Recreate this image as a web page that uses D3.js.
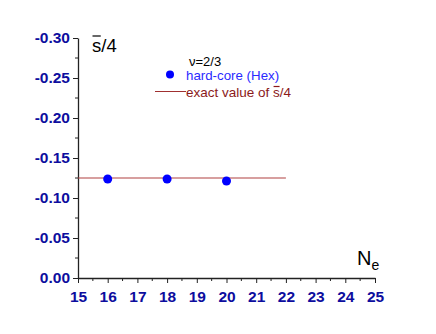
<!DOCTYPE html>
<html>
<head>
<meta charset="utf-8"/>
<script src="https://d3js.org/d3.v7.min.js"></script>
<style>
  body { margin: 0; background: #fff; }
  svg { display: block; font-family: "Liberation Sans", Arial, sans-serif; }
</style>
</head>
<body>
<div id="holder"></div>
<script>
// data
const ne = [16, 18, 20];
const sOver4 = [-0.1238, -0.1238, -0.1213];
const exactValue = -0.125;
const exactRange = [15, 22];
const xTicks = [15, 16, 17, 18, 19, 20, 21, 22, 23, 24, 25];
const yTicks = [0, -0.05, -0.10, -0.15, -0.20, -0.25, -0.30];

const w = 436, h = 334;
const padLeft = 78, padRight = 375, padTop = 38, padBottom = 278;
const blue = "#0d0d9e";

const svg = d3.select("#holder").append("svg")
  .attr("width", w).attr("height", h);

// scales
const x = d3.scaleLinear().domain([15, 25]).range([padLeft, padRight]);
const y = d3.scaleLinear().domain([0, -0.30]).range([padBottom, padTop]);

// axes (hyphen minus like the original)
const fmtY = d => d3.format(".2f")(d).replace("\u2212", "-");
const xAxis = d3.axisBottom(x).tickValues(xTicks).tickFormat(d3.format("d")).tickSize(5).tickSizeOuter(0);
const yAxis = d3.axisLeft(y).tickValues(yTicks).tickFormat(fmtY).tickSize(5).tickSizeOuter(0);

const gx = svg.append("g").attr("transform", "translate(0," + padBottom + ")").call(xAxis);
const gy = svg.append("g").attr("transform", "translate(" + padLeft + ",0)").call(yAxis);

// minor ticks
const xMinor = d3.range(15.5, 25, 1);
gx.selectAll(".minor").data(xMinor).enter().append("line")
  .attr("class", "minor")
  .attr("x1", d => x(d)).attr("x2", d => x(d))
  .attr("y1", 0).attr("y2", 3)
  .attr("stroke", "#222");
const yMinor = d3.range(-0.025, -0.30, -0.05);
gy.selectAll(".minor").data(yMinor).enter().append("line")
  .attr("class", "minor")
  .attr("y1", d => y(d)).attr("y2", d => y(d))
  .attr("x1", 0).attr("x2", -3)
  .attr("stroke", "#222");

[gx, gy].forEach(g => {
  g.select(".domain").attr("stroke", "#222").attr("stroke-width", 1.3);
  g.selectAll(".tick line").attr("stroke", "#222");
  g.selectAll(".tick text")
    .attr("fill", blue)
    .style("font-size", "15.5px")
    .style("font-weight", "bold")
    .style("font-family", "'Liberation Sans', Arial, sans-serif");
});
gx.selectAll(".tick text").attr("dy", "1.05em");
gy.selectAll(".tick text").attr("x", -8);

// exact value line
svg.append("line")
  .attr("x1", x(exactRange[0])).attr("x2", x(exactRange[1]))
  .attr("y1", y(exactValue)).attr("y2", y(exactValue))
  .attr("stroke", "#b04040").attr("stroke-width", 1.2);

// points
svg.selectAll(".pt").data(ne).enter().append("circle")
  .attr("class", "pt")
  .attr("cx", d => x(d))
  .attr("cy", (d, i) => y(sOver4[i]))
  .attr("r", 4.5)
  .attr("fill", "#0000ff");

// overline helper: draws a bar above the tspan
function overline(ts, dyTop, color) {
  const bb = ts.node().getBBox();
  svg.append("line")
    .attr("x1", bb.x + 0.5).attr("x2", bb.x + bb.width - 0.5)
    .attr("y1", bb.y + dyTop).attr("y2", bb.y + dyTop)
    .attr("stroke", color).attr("stroke-width", 1.2);
}

// axis titles
const yl = svg.append("text").attr("x", 92).attr("y", 52)
  .style("font-size", "18.5px").attr("fill", "#000");
const ys = yl.append("tspan").text("s");
yl.append("tspan").text("/4");
overline(ys, 1, "#000");

const xl = svg.append("text").attr("x", 357).attr("y", 265)
  .style("font-size", "20px").attr("fill", "#000");
xl.append("tspan").text("N");
xl.append("tspan").attr("dy", 5).style("font-size", "14px").text("e");

// legend
svg.append("text").attr("x", 189).attr("y", 66)
  .style("font-size", "13px").attr("fill", "#000").text("ν=2/3");
svg.append("circle").attr("cx", 170).attr("cy", 74.5).attr("r", 4).attr("fill", "#0000ff");
svg.append("text").attr("x", 186).attr("y", 79.5)
  .style("font-size", "13.3px").attr("fill", "#2a2aff").text("hard-core (Hex)");
svg.append("line").attr("x1", 155).attr("x2", 186).attr("y1", 91.5).attr("y2", 91.5)
  .attr("stroke", "#a03030").attr("stroke-width", 1);
const ex = svg.append("text").attr("x", 186).attr("y", 96.5)
  .style("font-size", "13.5px").attr("fill", "#8b1a1a");
ex.append("tspan").text("exact value of ");
const exs = ex.append("tspan").text("s");
ex.append("tspan").text("/4");
overline(exs, 2, "#8b1a1a");
</script>
</body>
</html>
